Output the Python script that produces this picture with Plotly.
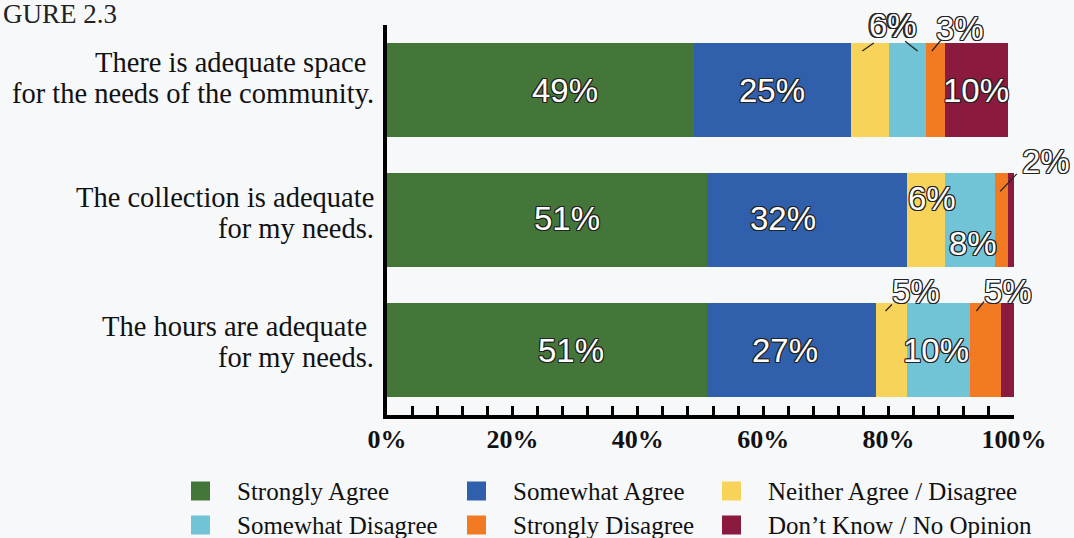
import plotly.graph_objects as go

# Survey statements (rows, top to bottom)
categories = [
    "There is adequate space\u00a0<br>for the needs of the community.",
    "The collection is adequate<br>for my needs.",
    "The hours are adequate\u00a0<br>for my needs.",
]

# Response shares (%) per statement
series_names = [
    "Strongly Agree",
    "Somewhat Agree",
    "Neither Agree / Disagree",
    "Somewhat Disagree",
    "Strongly Disagree",
    "Don\u2019t Know / No Opinion",
]
strongly_agree = [49, 51, 51]
somewhat_agree = [25, 32, 27]
neither = [6, 6, 5]
somewhat_disagree = [6, 8, 10]
strongly_disagree = [3, 2, 5]
dont_know = [10, 1, 2]
series_values = [strongly_agree, somewhat_agree, neither,
                 somewhat_disagree, strongly_disagree, dont_know]

colors = ["#44763A", "#3060AC", "#F7D35A", "#71C3D6", "#F27A23", "#8A1B3F"]

x_ticks = [0, 20, 40, 60, 80, 100]

# Value labels drawn inside the segments: (series, row, xshift, yshift)
inside_labels = [
    (0, 0, 24, 0), (1, 0, -1, 0), (5, 0, 0, 0),
    (0, 1, 20, 2), (1, 1, -24, 2), (2, 1, 6, 22), (3, 1, 3, -23),
    (0, 2, 24, 0), (1, 2, -6, 0), (3, 2, -3, 0),
]
# Callout labels with a leader line:
# (series, row, tip fraction along segment, tip row offset,
#  line start dx, dy, text dx, dy)  -- offsets in pixels, y downward
callouts = [
    (2, 0, 0.30, -0.30, 13, -9, 30, -26),
    (3, 0, 0.77, -0.30, -14, -11, -25, -26),
    (4, 0, 0.30, -0.30, 10, -12, 28, -23),
    (4, 1, 0.40, -0.22, 18, -19, 46, -30),
    (2, 2, 0.30, -0.30, 8, -8, 31, -20),
    (4, 2, 0.20, -0.30, 9, -11, 32, -20),
]

W, H = 1074, 538
ML, MR, MT, MB = 387, 60, 25, 123
PW, PH = W - ML - MR, H - MT - MB
BG = "#F7F8FA"
SERIF = "Liberation Serif"
SANS = "Liberation Sans"
OUTLINE = ("-1px -1px 0 #222, 1px -1px 0 #222, -1px 1px 0 #222, "
           "1px 1px 0 #222, 0 1px 0 #222, 0 -1px 0 #222, 1px 0 0 #222, -1px 0 0 #222")

rows = list(range(len(categories)))

fig = go.Figure()
for name, vals, col in zip(series_names, series_values, colors):
    fig.add_trace(go.Bar(
        x=vals, y=rows, orientation="h", name=name,
        marker=dict(color=col, line=dict(width=0)),
        width=0.72, showlegend=False, hoverinfo="x+name",
    ))


def seg_start(s, r):
    return sum(series_values[k][r] for k in range(s))


label_font = dict(family=SANS, size=33, color="white", shadow=OUTLINE)
annotations = []
for s, r, xs, ys in inside_labels:
    v = series_values[s][r]
    annotations.append(dict(
        x=seg_start(s, r) + v / 2, y=r, xref="x", yref="y",
        text=f"{v}%", showarrow=False, xshift=xs, yshift=ys,
        font=label_font,
    ))

for s, r, frac, roff, lx, ly, tx, ty in callouts:
    v = series_values[s][r]
    tip_x = seg_start(s, r) + v * frac
    tip_y = r + roff
    annotations.append(dict(
        x=tip_x, y=tip_y, xref="x", yref="y", text="",
        showarrow=True, arrowhead=0, arrowwidth=1.2, arrowcolor="#222",
        ax=lx, ay=ly, standoff=0, startstandoff=0,
    ))
    annotations.append(dict(
        x=tip_x, y=tip_y, xref="x", yref="y", text=f"{v}%",
        showarrow=False, xshift=tx, yshift=-ty, font=label_font,
    ))

# Statement labels, right-aligned beside the vertical axis
block_offsets = [-12, -7, -8]   # block centre vs. bar centre, px (down +)
line_gap = 30.5
for r, (cat, off) in enumerate(zip(categories, block_offsets)):
    lines = cat.split("<br>")
    n = len(lines)
    for i, line in enumerate(lines):
        dy = off + (i - (n - 1) / 2) * line_gap
        annotations.append(dict(
            x=0, y=r, xref="paper", yref="y", xanchor="right",
            yanchor="middle", xshift=-11, yshift=-dy, text=line,
            showarrow=False, font=dict(family=SERIF, size=28.5, color="#111"),
        ))


def px_x(px):
    return (px - ML) / PW


def px_y(py):
    return (H - MB - py) / PH


# Figure number in the top-left corner
annotations.append(dict(
    x=px_x(1), y=px_y(0), xref="paper", yref="paper",
    xanchor="left", yanchor="top", yshift=3, text="GURE 2.3",
    showarrow=False, font=dict(family=SERIF, size=27, color="#222"),
))

# Legend: coloured squares with labels in a 3 x 2 grid
shapes = []
leg_cols = [191, 467, 722]
leg_rows = [491, 525]
sq = 19
for i, (name, col) in enumerate(zip(series_names, colors)):
    cx = leg_cols[i % 3]
    cy = leg_rows[i // 3]
    shapes.append(dict(
        type="rect", xref="paper", yref="paper",
        x0=px_x(cx), x1=px_x(cx + sq),
        y0=px_y(cy + sq / 2), y1=px_y(cy - sq / 2),
        fillcolor=col, line=dict(width=0),
    ))
    annotations.append(dict(
        x=px_x(cx + 44), y=px_y(cy), xref="paper", yref="paper",
        xanchor="left", yanchor="middle", text=name, showarrow=False,
        font=dict(family=SERIF, size=25, color="#111"),
    ))

fig.update_layout(
    barmode="stack",
    width=W, height=H,
    margin=dict(l=ML, r=MR, t=MT, b=MB, autoexpand=False),
    paper_bgcolor=BG, plot_bgcolor=BG,
    annotations=annotations, shapes=shapes,
    showlegend=False,
    xaxis=dict(
        range=[0, 100], tickvals=x_ticks, ticktext=[f"{t}%" for t in x_ticks],
        showgrid=False, zeroline=False,
        showline=True, linecolor="black", linewidth=3.5,
        ticks="inside", ticklen=9, tickwidth=2.5, tickcolor="black",
        minor=dict(dtick=4, ticks="inside", ticklen=9, tickwidth=2.5,
                   tickcolor="black", showgrid=False),
        tickfont=dict(family=SERIF, size=26, color="#111", weight="bold"),
        ticklabelstandoff=-2,
    ),
    yaxis=dict(
        range=[2.5, -0.5], tickvals=rows, showticklabels=False,
        showgrid=False, zeroline=False,
        showline=True, linecolor="black", linewidth=3.5, ticks="",
    ),
)

fig.write_html("out.html")
